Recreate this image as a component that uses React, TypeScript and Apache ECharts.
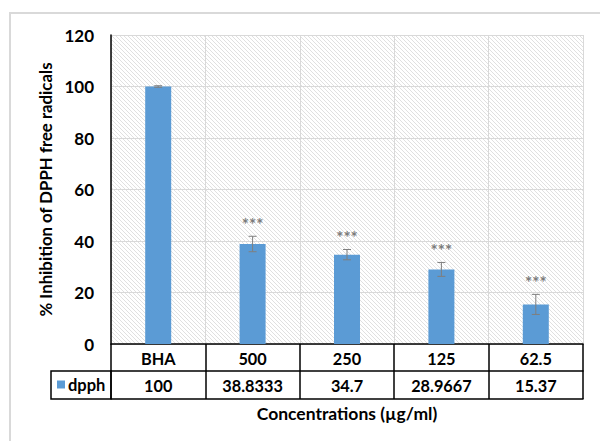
import React, { useEffect, useRef } from 'react';
import * as echarts from 'echarts';

const categories = ['BHA', '500', '250', '125', '62.5'];
const values = [100, 38.8333, 34.7, 28.9667, 15.37];
const errors = [0.3, 3.0, 2.0, 2.7, 3.9];
const stars = ['', '***', '***', '***', '***'];
const seriesName = 'dpph';
const yTitle = '% Inhibition of DPPH free radicals';
const xTitle = 'Concentrations (µg/ml)';
const yMin = 0;
const yMax = 120;
const yStep = 20;

const FONT = 'Lato, "Noto Sans", sans-serif';

const hatchSvg =
  "<svg xmlns='http://www.w3.org/2000/svg' width='4' height='4'><path d='M-1,-1L5,5M-1,3L1,5M3,-1L5,1' stroke='#e0e0e0' stroke-width='1'/></svg>";
const hatchUrl = 'data:image/svg+xml;charset=utf-8,' + encodeURIComponent(hatchSvg);

export default function App() {
  const ref = useRef<HTMLDivElement>(null);
  useEffect(() => {
    if (!ref.current) return;
    const chart = echarts.init(ref.current, null, { renderer: 'svg' });
    const gridLeft = 111;
    const gridTop = 35;
    const gridRight = 17;
    const gridBottom = 97;
    const W = 600;
    const H = 441;
    const labelStyle = { fontFamily: FONT, fontWeight: 'bold' as const, fontSize: 16.3, color: '#000' };
    chart.setOption({
      animation: false,
      backgroundColor: '#fff',
      grid: { left: gridLeft, top: gridTop, right: gridRight, bottom: gridBottom, containLabel: false },
      legend: {
        data: [seriesName],
        left: 57,
        top: 376,
        padding: 0,
        itemWidth: 8,
        itemHeight: 8,
        itemGap: 4,
        icon: 'rect',
        textStyle: { ...labelStyle, fontSize: 16.5, padding: [0, 0, 0, -2] },
      },
      graphic: [
        {
          type: 'rect',
          z: -10,
          silent: true,
          shape: { x: gridLeft, y: gridTop, width: W - gridLeft - gridRight, height: H - gridTop - gridBottom },
          style: { fill: { image: hatchUrl, repeat: 'repeat', imageWidth: 4, imageHeight: 4 } as any },
        },
        {
          type: 'rect',
          z: 10,
          silent: true,
          shape: { x: 10, y: 13, width: 640, height: 460 },
          style: { fill: 'none', stroke: '#d9d9d9', lineWidth: 2 },
        },
        {
          type: 'rect',
          z: 10,
          silent: true,
          shape: { x: 51, y: 371, width: gridLeft - 51, height: 28 },
          style: { fill: 'none', stroke: '#000', lineWidth: 1.5 },
        },
        {
          type: 'text',
          z: 10,
          x: (gridLeft + W - gridRight) / 2,
          y: 413,
          style: {
            text: xTitle,
            fill: '#000',
            font: `bold 17.5px ${FONT}`,
            textAlign: 'center',
            textVerticalAlign: 'middle',
          },
        },
      ],
      xAxis: [
        {
          type: 'category',
          data: categories,
          position: 'bottom',
          axisLine: { lineStyle: { color: '#000', width: 1.5 } },
          axisTick: { show: true, length: 55, lineStyle: { color: '#000', width: 1.5 } },
          axisLabel: { ...labelStyle, margin: 14, verticalAlign: 'middle' },
          splitLine: { show: true, lineStyle: { color: '#d9d9d9', width: 1 } },
        },
        {
          type: 'category',
          data: values.map((v) => String(v)),
          position: 'bottom',
          offset: 27,
          axisLine: { lineStyle: { color: '#000', width: 1.5 } },
          axisTick: { show: false },
          axisLabel: { ...labelStyle, margin: 14, verticalAlign: 'middle' },
          splitLine: { show: false },
        },
        {
          type: 'category',
          data: categories,
          position: 'bottom',
          offset: 55,
          axisLine: { lineStyle: { color: '#000', width: 1.5 } },
          axisTick: { show: false },
          axisLabel: { show: false },
          splitLine: { show: false },
        },
      ],
      yAxis: {
        type: 'value',
        min: yMin,
        max: yMax,
        interval: yStep,
        axisLine: { show: true, lineStyle: { color: '#000', width: 1.5 } },
        axisTick: { show: false },
        axisLabel: { ...labelStyle, fontSize: 17, margin: 17 },
        splitLine: { show: true, lineStyle: { color: '#d9d9d9', width: 1 } },
        name: yTitle,
        nameLocation: 'middle',
        nameGap: 57,
        nameTextStyle: { ...labelStyle, fontSize: 16.8 },
      },
      series: [
        {
          name: seriesName,
          type: 'bar',
          data: values,
          barWidth: 26,
          itemStyle: { color: '#5b9bd5' },
          xAxisIndex: 0,
        },
        {
          type: 'custom',
          xAxisIndex: 0,
          z: 5,
          silent: true,
          data: values.map((v, i) => [i, v - errors[i], v + errors[i]]),
          encode: { x: 0, y: [1, 2] },
          renderItem: (params: any, api: any) => {
            const x = api.value(0);
            const lo = api.coord([x, api.value(1)]);
            const hi = api.coord([x, api.value(2)]);
            const w = 4;
            const st = { stroke: '#7f7f7f', lineWidth: 1 };
            return {
              type: 'group',
              children: [
                { type: 'line', shape: { x1: lo[0], y1: lo[1], x2: hi[0], y2: hi[1] }, style: st },
                { type: 'line', shape: { x1: hi[0] - w, y1: hi[1], x2: hi[0] + w, y2: hi[1] }, style: st },
                { type: 'line', shape: { x1: lo[0] - w, y1: lo[1], x2: lo[0] + w, y2: lo[1] }, style: st },
              ],
            };
          },
        },
        {
          type: 'scatter',
          xAxisIndex: 0,
          symbolSize: 0,
          silent: true,
          data: values.map((v, i) => [i, v + errors[i]]),
          label: {
            show: true,
            position: 'top',
            distance: 3,
            formatter: (p: any) => stars[p.dataIndex],
            color: '#595959',
            fontFamily: FONT,
            fontSize: 17,
            fontWeight: 'bold',
          },
        },
      ],
    });
    return () => chart.dispose();
  }, []);
  return <div ref={ref} style={{ position: 'fixed', left: 0, top: 0, width: 600, height: 441 }} />;
}
